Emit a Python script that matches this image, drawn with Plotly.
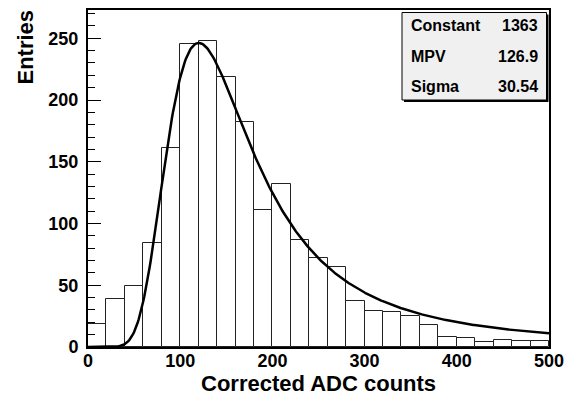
import numpy as np
import plotly.graph_objects as go

# ---- data ----
bin_edges_lo = list(range(0, 500, 20))
bin_width = 20
counts = [19, 39, 49, 84, 161, 245, 248, 219, 182, 111, 132, 87, 72,
          65, 37, 29, 28, 25, 18, 8, 7, 4, 6, 5, 5]
fit_names = ["Constant", "MPV", "Sigma"]
fit_values = [1363, 126.9, 30.54]
fit_labels = ["1363", "126.9", "30.54"]
x_ticks = [0, 100, 200, 300, 400, 500]
y_ticks = [0, 50, 100, 150, 200, 250]


def landau_pdf(v):
    p1 = [0.4259894875, -0.1249762550, 0.03984243700, -0.006298287635, 0.001511162253]
    q1 = [1.0, -0.3388260629, 0.09594393323, -0.01608042283, 0.003778942063]
    p2 = [0.1788541609, 0.1173957403, 0.01488850518, -0.001394989411, 0.0001283617211]
    q2 = [1.0, 0.7428795082, 0.3153932961, 0.06694219548, 0.008790609714]
    p3 = [0.1788544503, 0.09359161662, 0.006325387654, 0.00006611667319, -0.000002031049101]
    q3 = [1.0, 0.6097809921, 0.2560616665, 0.04746722384, 0.006957301675]
    p4 = [0.9874054407, 118.6723273, 849.2794360, -743.7792444, 427.0262186]
    q4 = [1.0, 106.8615961, 337.6496214, 2016.712389, 1597.063511]
    p5 = [1.003675074, 167.5702434, 4789.711289, 21217.86767, -22324.94910]
    q5 = [1.0, 156.9424537, 3745.310488, 9834.698876, 66924.28357]
    p6 = [1.000827619, 664.9143136, 62972.92665, 475554.6998, -5743609.109]
    q6 = [1.0, 651.4101098, 56974.73333, 165917.4725, -2815759.939]
    a1 = [0.04166666667, -0.01996527778, 0.02709538966]
    a2 = [-1.845568670, -4.284640743]

    def poly(c, t):
        return c[0] + (c[1] + (c[2] + (c[3] + c[4] * t) * t) * t) * t

    if v < -5.5:
        u = np.exp(v + 1.0)
        if u < 1e-10:
            return 0.0
        ue = np.exp(-1 / u)
        us = np.sqrt(u)
        return 0.3989422803 * (ue / us) * (1 + (a1[0] + (a1[1] + a1[2] * u) * u) * u)
    elif v < -1:
        u = np.exp(-v - 1)
        return np.exp(-u) * np.sqrt(u) * poly(p1, v) / poly(q1, v)
    elif v < 1:
        return poly(p2, v) / poly(q2, v)
    elif v < 5:
        return poly(p3, v) / poly(q3, v)
    elif v < 12:
        u = 1 / v
        return u * u * poly(p4, u) / poly(q4, u)
    elif v < 50:
        u = 1 / v
        return u * u * poly(p5, u) / poly(q5, u)
    elif v < 300:
        u = 1 / v
        return u * u * poly(p6, u) / poly(q6, u)
    else:
        u = 1 / (v - v * np.log(v) / (v + 1))
        return u * u * (1 + (a2[0] + a2[1] * u) * u)


const, mpv, sigma = fit_values
fit_x = np.linspace(0, 500, 501)
fit_y = [const * landau_pdf((x - mpv) / sigma) for x in fit_x]

FONT = "Liberation Sans, Arial, Helvetica, sans-serif"

fig = go.Figure()
fig.add_trace(go.Bar(
    x=[lo + bin_width / 2 for lo in bin_edges_lo],
    y=counts,
    width=bin_width,
    marker=dict(color="white", line=dict(color="#222222", width=1)),
    hoverinfo="x+y",
))
fig.add_trace(go.Scatter(
    x=fit_x, y=fit_y, mode="lines",
    line=dict(color="black", width=2.5),
))

L, R, T, B = 88, 23, 10, 50
W, H = 572, 397
pw, ph = W - L - R, H - T - B


def px(x):
    return (x - L) / pw


def py(y):
    return 1 - (y - T) / ph


# stats box shadow + box
fig.add_shape(type="rect", xref="paper", yref="paper",
              x0=px(404), x1=px(548.5), y0=py(102), y1=py(14.5),
              fillcolor="black", line=dict(width=0), layer="above")
fig.add_shape(type="rect", xref="paper", yref="paper",
              x0=px(402), x1=px(546.5), y0=py(100), y1=py(12.5),
              fillcolor="#f0f0f0", line=dict(color="black", width=1), layer="above")

row_y = [26, 56, 86]
for name, lab, ry in zip(fit_names, fit_labels, row_y):
    fig.add_annotation(xref="paper", yref="paper", x=px(409), y=py(ry),
                       text=name, showarrow=False, xanchor="left", yanchor="middle",
                       font=dict(family=FONT, size=16, color="black", weight="bold"))
    fig.add_annotation(xref="paper", yref="paper", x=px(540), y=py(ry),
                       text=lab, showarrow=False, xanchor="right", yanchor="middle",
                       font=dict(family=FONT, size=16, color="black", weight="bold"))

# axis titles
fig.add_annotation(xref="paper", yref="paper", x=px(318), y=py(384),
                   text="Corrected ADC counts", showarrow=False,
                   xanchor="center", yanchor="middle",
                   font=dict(family=FONT, size=22, color="black", weight="bold"))
fig.add_annotation(xref="paper", yref="paper", x=px(25), y=py(8),
                   text="Entries", showarrow=False, textangle=-90,
                   xanchor="center", yanchor="top",
                   font=dict(family=FONT, size=22, color="black", weight="bold"))

fig.update_layout(
    width=W, height=H,
    margin=dict(l=L, r=R, t=T, b=B, pad=0, autoexpand=False),
    paper_bgcolor="white", plot_bgcolor="white",
    showlegend=False, bargap=0,
    font=dict(family=FONT, color="black"),
    xaxis=dict(range=[0, 500], tickvals=x_ticks, ticks="", showgrid=False,
               zeroline=False, showline=True, linecolor="black", linewidth=2,
               mirror=True, tickfont=dict(family=FONT, size=18, weight="bold"),
               ticklabelstandoff=-4, automargin=False),
    yaxis=dict(range=[0, 272.9], tickvals=y_ticks, ticks="inside", ticklen=13,
               tickcolor="black", tickwidth=1, showgrid=False, zeroline=False,
               showline=True, linecolor="black", linewidth=2, mirror=True,
               tickfont=dict(family=FONT, size=18, weight="bold"),
               ticklabelstandoff=4, automargin=False,
               minor=dict(dtick=10, tick0=0, ticks="inside", ticklen=7,
                          tickcolor="black", tickwidth=1, showgrid=False)),
)

fig.write_html("out.html", config={"displayModeBar": False},
               post_script="document.body.style.margin='0px';")
